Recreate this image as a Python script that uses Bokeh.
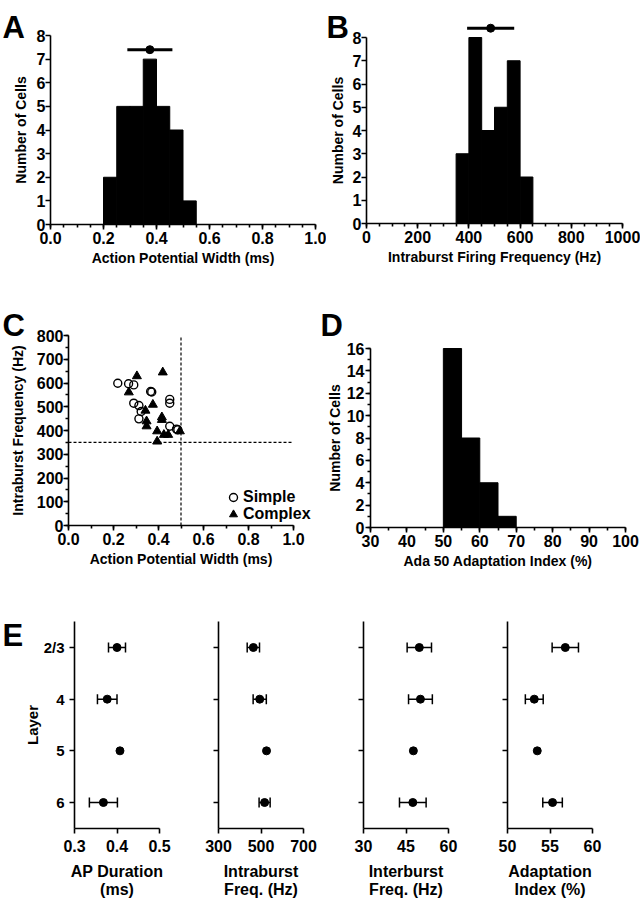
import numpy as np
from bokeh.plotting import figure
from bokeh.layouts import column, row
from bokeh.models import (Range1d, SingleIntervalTicker, FixedTicker, NumeralTickFormatter,
                          Label, Legend, LegendItem)
from bokeh.embed import file_html
from bokeh.resources import INLINE

FONT = "Liberation Sans"

# ---------------- data ----------------
# A: action potential width histogram
apw_bin_left = [0.20, 0.25, 0.30, 0.35, 0.40, 0.45, 0.50]
apw_counts = [2, 5, 5, 7, 5, 4, 1]
apw_bin_width = 0.05
apw_mean = 0.375
apw_sd = 0.085
apw_mean_y = 7.4

# B: intraburst firing frequency histogram
ibf_bin_left = [350, 400, 450, 500, 550, 600]
ibf_counts = [3, 8, 4, 5, 7, 2]
ibf_bin_width = 50
ibf_mean = 485
ibf_sd = 92
ibf_mean_y = 8.4

# C: scatter of intraburst frequency vs AP width
simple_apw = [0.219, 0.267, 0.290, 0.290, 0.313, 0.323, 0.313, 0.365, 0.370, 0.450, 0.450, 0.450, 0.480, 0.486]
simple_freq = [599, 597, 592, 515, 505, 480, 449, 564, 562, 531, 515, 418, 406, 403]
complex_apw = [0.304, 0.268, 0.419, 0.375, 0.342, 0.347, 0.347, 0.415, 0.415, 0.394, 0.394, 0.424, 0.443, 0.495]
complex_freq = [629, 561, 645, 509, 484, 439, 418, 456, 445, 397, 354, 382, 382, 397]
apw_cutoff = 0.5
freq_cutoff = 350
c_x_max = 1.0
c_y_max = 800

# D: adaptation index histogram
ada_bin_left = [50, 55, 60, 65]
ada_counts = [16, 8, 4, 1]
ada_bin_width = 5

# E: layer means +/- SEM
layers = ["2/3", "4", "5", "6"]
ap_mean = [0.400, 0.377, 0.407, 0.368]
ap_err = [0.020, 0.023, 0.0, 0.033]
intra_mean = [464, 494, 526, 517]
intra_err = [29, 31, 0, 26]
inter_mean = [49.7, 50.1, 47.6, 47.4]
inter_err = [4.3, 4.2, 0, 4.7]
adapt_mean = [56.8, 53.15, 53.5, 55.3]
adapt_err = [1.55, 1.05, 0, 1.15]


# ---------------- helpers ----------------
def panel(w, h, xmap, ymap, xb, yb):
    """Figure whose frame fills the whole canvas; axes are pinned inside it."""
    x0, px0, x1, px1 = xmap
    sx = (x1 - x0) / (px1 - px0)
    xr = Range1d(x0 - px0 * sx, x0 + (w - px0) * sx)
    y0, py0, y1, py1 = ymap
    sy = (y1 - y0) / (py0 - py1)
    yr = Range1d(y0 - (h - py0) * sy, y0 + py0 * sy)
    p = figure(width=w, height=h, x_range=xr, y_range=yr, min_border=0,
               min_border_left=0, min_border_right=0, min_border_top=0, min_border_bottom=0,
               output_backend="svg", toolbar_location=None, tools="")
    p.grid.visible = False
    p.outline_line_color = None
    p.xaxis.fixed_location = yb[0]
    p.yaxis.fixed_location = xb[0]
    p.xaxis.bounds = xb
    p.yaxis.bounds = yb
    for ax in p.axis:
        ax.axis_line_width = 1.6
        ax.axis_line_color = "black"
        ax.major_tick_line_width = 1.6
        ax.minor_tick_line_width = 1.6
        ax.major_tick_line_color = "black"
        ax.minor_tick_line_color = "black"
        ax.major_tick_in = 0
        ax.major_tick_out = 5
        ax.minor_tick_in = 0
        ax.minor_tick_out = 3
        ax.major_label_text_font = FONT
        ax.major_label_text_font_style = "bold"
        ax.major_label_text_font_size = "16px"
        ax.major_label_text_color = "black"
        ax.axis_label_text_font = FONT
        ax.axis_label_text_font_style = "bold"
        ax.axis_label_text_font_size = "14px"
        ax.axis_label_text_color = "black"
    p.xaxis.major_label_standoff = 2
    p.xaxis.axis_label_standoff = 3
    return p


def letter(p, text, x, baseline):
    p.add_layout(Label(x=x, y=p.height - baseline, x_units="screen", y_units="screen",
                       text=text, text_font=FONT, text_font_style="bold",
                       text_font_size="31px", text_color="black",
                       text_baseline="alphabetic", text_align="left"))


def hist(p, left, counts, width):
    right = [v + width for v in left]
    p.quad(left=left, right=right, bottom=0, top=counts,
           fill_color="black", line_color="black", line_width=1)


def mean_bar(p, m, sd, y):
    p.segment(x0=[m - sd], x1=[m + sd], y0=[y], y1=[y], line_color="black", line_width=3)
    p.scatter(x=[m], y=[y], size=8, color="black")


def legend_entry(p, label, renderer, loc):
    p.add_layout(Legend(items=[LegendItem(label=label, renderers=[renderer])],
                        location=loc, border_line_color=None, background_fill_alpha=0,
                        padding=0, margin=0, spacing=0, glyph_width=20, glyph_height=20,
                        label_standoff=0, label_height=17,
                        label_text_font=FONT, label_text_font_style="bold",
                        label_text_font_size="16px", label_text_color="black"))


# ---------------- A ----------------
pA = panel(326, 285, (0, 50, 1, 315), (0, 224, 8, 35), (0, 1), (0, 8))
pA.xaxis.ticker = SingleIntervalTicker(interval=0.2, num_minor_ticks=4)
pA.xaxis.formatter = NumeralTickFormatter(format="0.0")
pA.yaxis.ticker = SingleIntervalTicker(interval=1, num_minor_ticks=0)
pA.xaxis.axis_label = "Action Potential Width (ms)"
pA.yaxis.axis_label = "Number of Cells"
pA.yaxis.major_label_standoff = 0
pA.yaxis.axis_label_standoff = 5
hist(pA, apw_bin_left, apw_counts, apw_bin_width)
mean_bar(pA, apw_mean, apw_sd, apw_mean_y)
letter(pA, "A", 2, 27)

# ---------------- B ----------------
pB = panel(314, 285, (0, 40, 1000, 296), (0, 223, 8, 37), (0, 1000), (0, 8))
pB.xaxis.ticker = SingleIntervalTicker(interval=200, num_minor_ticks=4)
pB.yaxis.ticker = SingleIntervalTicker(interval=1, num_minor_ticks=0)
pB.xaxis.axis_label = "Intraburst Firing Frequency (Hz)"
pB.yaxis.axis_label = "Number of Cells"
pB.yaxis.major_label_standoff = 0
pB.yaxis.axis_label_standoff = 4
hist(pB, ibf_bin_left, ibf_counts, ibf_bin_width)
mean_bar(pB, ibf_mean, ibf_sd, ibf_mean_y)
letter(pB, "B", 0, 27)

# ---------------- C ----------------
pC = panel(316, 305, (0, 68, 1, 293), (0, 240, 800, 50), (0, c_x_max), (0, c_y_max))
pC.xaxis.ticker = SingleIntervalTicker(interval=0.2, num_minor_ticks=2)
pC.xaxis.formatter = NumeralTickFormatter(format="0.0")
pC.yaxis.ticker = SingleIntervalTicker(interval=100, num_minor_ticks=2)
pC.xaxis.axis_label = "Action Potential Width (ms)"
pC.yaxis.axis_label = "Intraburst Frequency (Hz)"
pC.yaxis.major_label_standoff = 0
pC.yaxis.axis_label_standoff = 8
pC.segment(x0=[apw_cutoff, 0], y0=[0, freq_cutoff], x1=[apw_cutoff, c_x_max], y1=[c_y_max, freq_cutoff],
           line_dash="3 2", line_width=1.2, line_color="black")
rs = pC.scatter(simple_apw, simple_freq, marker="circle", size=8, fill_color=None,
                line_color="black", line_width=1.4)
rc = pC.scatter(complex_apw, complex_freq, marker="triangle", size=9,
                fill_color="black", line_color="black")
legend_entry(pC, "Simple", rs, (223, 83))
legend_entry(pC, "Complex", rc, (223, 66))
letter(pC, "C", 2, 40)

# ---------------- D ----------------
pD = panel(324, 305, (30, 54, 100, 309), (0, 242, 16, 63), (30, 100), (0, 16))
pD.xaxis.ticker = SingleIntervalTicker(interval=10, num_minor_ticks=2)
pD.yaxis.ticker = SingleIntervalTicker(interval=2, num_minor_ticks=2)
pD.xaxis.axis_label = "Ada 50 Adaptation Index (%)"
pD.yaxis.axis_label = "Number of Cells"
pD.yaxis.major_label_standoff = 1
pD.yaxis.axis_label_standoff = 1
hist(pD, ada_bin_left, ada_counts, ada_bin_width)
letter(pD, "D", 4, 40)

# ---------------- E ----------------
layer_pos = list(range(len(layers), 0, -1))   # 2/3 on top
e_specs = [
    (188, 74, 159, (0.3, 0.5), [0.3, 0.4, 0.5], "AP Duration\n(ms)", ap_mean, ap_err),
    (145, 30, 115, (300, 700), [300, 500, 700], "Intraburst\nFreq. (Hz)", intra_mean, intra_err),
    (145, 30, 115, (30, 60), [30, 45, 60], "Interburst\nFreq. (Hz)", inter_mean, inter_err),
    (162, 29, 114, (50, 60), [50, 55, 60], "Adaptation\nIndex (%)", adapt_mean, adapt_err),
]
e_figs = []
for i, (w, pxl, pxr, xr, ticks, lab, mean, err) in enumerate(e_specs):
    p = panel(w, 308, (xr[0], pxl, xr[1], pxr), (1, 212, len(layers), 57),
              xr, (0.5, len(layers) + 0.5))
    p.xaxis.ticker = FixedTicker(ticks=ticks, minor_ticks=[])
    p.yaxis.ticker = FixedTicker(ticks=layer_pos, minor_ticks=[])
    p.xaxis.axis_label = lab
    p.xaxis.axis_label_text_font_size = "16px"
    p.xaxis.axis_label_text_line_height = 1.1
    p.xaxis.major_label_standoff = 7
    p.xaxis.axis_label_standoff = 7
    p.yaxis.major_label_text_font_size = "15px"
    if i == 0:
        p.yaxis.major_label_overrides = {pos: lay for pos, lay in zip(layer_pos, layers)}
        p.yaxis.axis_label = "Layer"
        p.yaxis.axis_label_text_font_size = "15px"
        p.yaxis.major_label_standoff = 5
        p.yaxis.axis_label_standoff = 0
    else:
        p.yaxis.major_label_overrides = {pos: "" for pos in layer_pos}
    lo = [m - e for m, e in zip(mean, err)]
    hi = [m + e for m, e in zip(mean, err)]
    p.segment(x0=lo, x1=hi, y0=layer_pos, y1=layer_pos, line_color="black", line_width=1.5)
    cap_y = [yp for yp, e in zip(layer_pos, err) if e > 0]
    cap_lo = [v for v, e in zip(lo, err) if e > 0]
    cap_hi = [v for v, e in zip(hi, err) if e > 0]
    p.scatter(x=cap_lo + cap_hi, y=cap_y + cap_y, marker="dash", angle=np.pi / 2,
              size=10, line_color="black", line_width=1.5)
    p.scatter(x=mean, y=layer_pos, size=8, color="black")
    if i == 0:
        letter(p, "E", 2, 45)
    e_figs.append(p)

layout = column(row(pA, pB), row(pC, pD), row(*e_figs))
open("out.html", "w").write(file_html(layout, INLINE))
